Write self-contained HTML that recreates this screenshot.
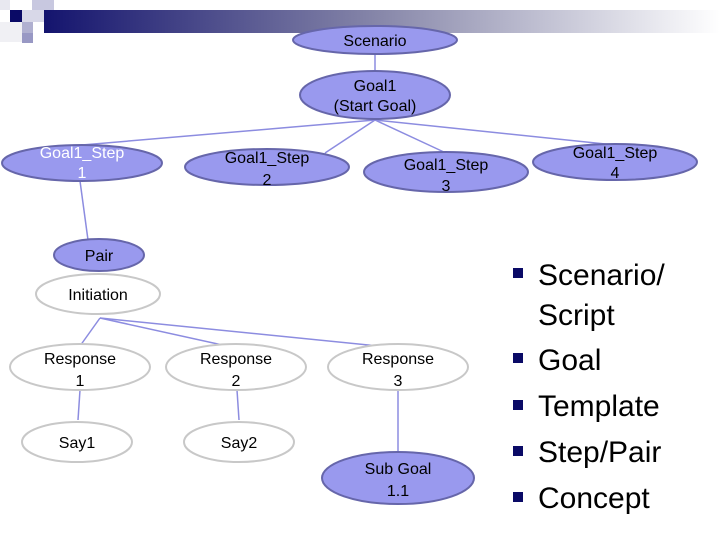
<!DOCTYPE html>
<html><head><style>body{margin:0;background:#fff}svg{display:block}</style></head><body>
<svg width="720" height="540" xmlns="http://www.w3.org/2000/svg" font-family="Liberation Sans, Arial, sans-serif">
<defs>
<linearGradient id="g" x1="0" x2="1" y1="0" y2="0">
<stop offset="0" stop-color="#14146e"/><stop offset="0.5" stop-color="#8888aa"/><stop offset="1" stop-color="#ffffff"/>
</linearGradient>
</defs>
<rect x="44" y="10" width="676" height="23" fill="url(#g)"/>
<rect x="0" y="0" width="10" height="10" fill="#e8e8f0"/>
<rect x="10" y="10" width="12" height="12" fill="#0a0a66"/>
<rect x="22" y="10" width="22" height="12" fill="#d8d8e8"/>
<rect x="32" y="0" width="22" height="10" fill="#c8c8e0"/>
<rect x="22" y="22" width="11" height="11" fill="#b0b0d0"/>
<rect x="0" y="22" width="22" height="20" fill="#f0f0f4"/>
<rect x="22" y="33" width="11" height="10" fill="#9898c4"/>
<g stroke="#8c8ce0" stroke-width="1.5" fill="none">
<line x1="375" y1="54" x2="375" y2="71"/>
<line x1="375" y1="120" x2="82" y2="145"/>
<line x1="375" y1="120" x2="325" y2="153"/>
<line x1="375" y1="120" x2="446" y2="153"/>
<line x1="375" y1="120" x2="615" y2="145"/>
<line x1="80" y1="181" x2="88" y2="240"/>
<line x1="100" y1="318" x2="80" y2="346"/>
<line x1="100" y1="318" x2="236" y2="348"/>
<line x1="100" y1="318" x2="398" y2="348"/>
<line x1="80" y1="390" x2="78" y2="420"/>
<line x1="237" y1="390" x2="239" y2="420"/>
<line x1="398" y1="390" x2="398" y2="452"/>
</g>
<g fill="#9999ee" stroke="#6666aa" stroke-width="2">
<ellipse cx="375" cy="40" rx="82" ry="14"/>
<ellipse cx="375" cy="95" rx="75" ry="24"/>
<ellipse cx="82" cy="163" rx="80" ry="18"/>
<ellipse cx="267" cy="167" rx="82" ry="18"/>
<ellipse cx="446" cy="172" rx="82" ry="20"/>
<ellipse cx="615" cy="162" rx="82" ry="18"/>
<ellipse cx="99" cy="255" rx="45" ry="16"/>
<ellipse cx="398" cy="478" rx="76" ry="26"/>
</g>
<g fill="#fff" stroke="#c8c8c8" stroke-width="2">
<ellipse cx="98" cy="294" rx="62" ry="20"/>
<ellipse cx="80" cy="367" rx="70" ry="23"/>
<ellipse cx="236" cy="367" rx="70" ry="23"/>
<ellipse cx="398" cy="367" rx="70" ry="23"/>
<ellipse cx="77" cy="442" rx="55" ry="20"/>
<ellipse cx="239" cy="442" rx="55" ry="20"/>
</g>
<g font-size="16" text-anchor="middle" fill="#000">
<text x="375" y="46">Scenario</text>
<text x="375" y="91">Goal1</text><text x="375" y="111">(Start Goal)</text>
<text x="82" y="158" fill="#fff">Goal1_Step</text><text x="82" y="178" fill="#fff">1</text>
<text x="267" y="163">Goal1_Step</text><text x="267" y="185">2</text>
<text x="446" y="170">Goal1_Step</text><text x="446" y="191">3</text>
<text x="615" y="158">Goal1_Step</text><text x="615" y="178">4</text>
<text x="99" y="261">Pair</text>
<text x="98" y="300">Initiation</text>
<text x="80" y="364">Response</text><text x="80" y="386">1</text>
<text x="236" y="364">Response</text><text x="236" y="386">2</text>
<text x="398" y="364">Response</text><text x="398" y="386">3</text>
<text x="77" y="448">Say1</text>
<text x="239" y="448">Say2</text>
<text x="398" y="474">Sub Goal</text><text x="398" y="496">1.1</text>
</g>
<g fill="#0a0a66">
<rect x="513" y="268" width="10" height="10"/>
<rect x="513" y="353" width="10" height="10"/>
<rect x="513" y="400" width="10" height="10"/>
<rect x="513" y="446" width="10" height="10"/>
<rect x="513" y="492" width="10" height="10"/>
</g>
<g font-size="30" fill="#000">
<text x="538" y="285">Scenario/</text>
<text x="538" y="325">Script</text>
<text x="538" y="370">Goal</text>
<text x="538" y="416">Template</text>
<text x="538" y="462">Step/Pair</text>
<text x="538" y="508">Concept</text>
</g>
</svg>
</body></html>
